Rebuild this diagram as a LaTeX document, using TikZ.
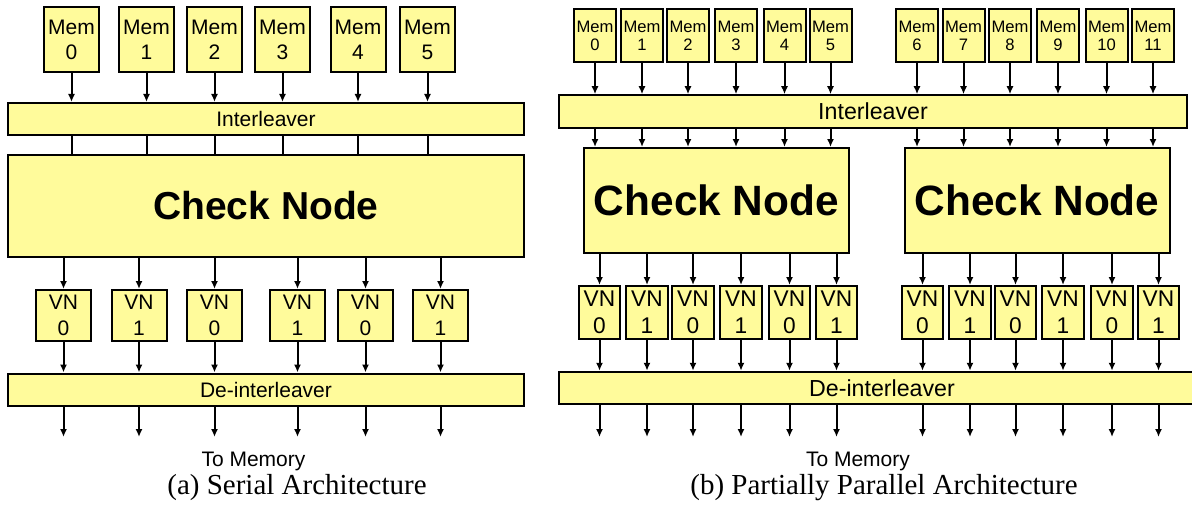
\documentclass[tikz,border=0pt]{standalone}
\usepackage{fontspec}
\setmainfont{Liberation Serif}
\setsansfont{Liberation Sans}
\usepackage{xcolor}
\usetikzlibrary{arrows.meta}
\definecolor{paleyellow}{RGB}{255, 251, 155}

\begin{document}
\begin{tikzpicture}[x=1pt, y=-1pt, line width=2pt, >={Latex[length=8pt, width=7pt]},
    block/.style={rectangle, draw, fill=paleyellow, inner sep=0pt, align=center},
    memA/.style={block, minimum width=55pt, minimum height=65pt, font=\sffamily\fontsize{21}{25}\selectfont},
    memB/.style={block, minimum width=42pt, minimum height=53pt, font=\sffamily\fontsize{16.6}{18}\selectfont},
    vnA/.style={block, minimum width=55pt, minimum height=51pt, font=\sffamily\fontsize{21}{26}\selectfont},
    vnB/.style={block, minimum width=41.5pt, minimum height=53pt, font=\sffamily\fontsize{22.7}{27}\selectfont},
    barA/.style={block, minimum width=515.5pt, minimum height=32pt, font=\sffamily\fontsize{21}{25}\selectfont},
    barB/.style={block, minimum height=32.5pt, font=\sffamily\fontsize{23.2}{27}\selectfont},
    checkA/.style={block, minimum width=515.5pt, minimum height=102pt, font=\sffamily\bfseries\fontsize{39}{45}\selectfont},
    checkB/.style={block, minimum width=265pt, minimum height=105pt, font=\sffamily\bfseries\fontsize{42.4}{48}\selectfont},
    note/.style={font=\sffamily\fontsize{21}{25}\selectfont},
    caption/.style={font=\rmfamily\fontsize{29}{33}\selectfont}]
    \useasboundingbox (0,0) rectangle (1192,511);

    % (a) Memories
    \node[memA] (memA0) at (71.5, 39.5) {Mem\\0};
    \node[memA] (memA1) at (146.5, 39.5) {Mem\\1};
    \node[memA] (memA2) at (214.5, 39.5) {Mem\\2};
    \node[memA] (memA3) at (282.5, 39.5) {Mem\\3};
    \node[memA] (memA4) at (358, 39.5) {Mem\\4};
    \node[memA] (memA5) at (427.5, 39.5) {Mem\\5};

    % (a) Interleaver and check node
    \node[barA] (ilA) at (266, 119) {Interleaver};
    \node[checkA] (cnA) at (266, 206) {Check Node};

    % (a) Variable nodes
    \node[vnA] (vnA0) at (63.5, 315.5) {VN\\0};
    \node[vnA] (vnA1) at (139, 315.5) {VN\\1};
    \node[vnA] (vnA2) at (214.5, 315.5) {VN\\0};
    \node[vnA] (vnA3) at (297.5, 315.5) {VN\\1};
    \node[vnA] (vnA4) at (365.5, 315.5) {VN\\0};
    \node[vnA] (vnA5) at (440.5, 315.5) {VN\\1};

    % (a) De-interleaver and output
    \node[barA] (dilA) at (266, 389.5) {De-interleaver};
    \coordinate (endA) at (0, 437);
    \node[note] (toA) at (253.5, 461) {To Memory};
    \node[caption] (capA) at (297, 488) {(a) Serial Architecture};

    % (a) Connections
    \foreach \i in {0,...,5} {
        \draw[->] (memA\i) -- (memA\i |- ilA.north);
        \draw (memA\i |- ilA.south) -- (memA\i |- cnA.north);
        \draw[->] (vnA\i |- cnA.south) -- (vnA\i);
        \draw[->] (vnA\i) -- (vnA\i |- dilA.north);
        \draw[->] (vnA\i |- dilA.south) -- (vnA\i |- endA);
    }

    % (b) Memories
    \node[memB] (memB0) at (595, 35.5) {Mem\\0};
    \node[memB] (memB1) at (642, 35.5) {Mem\\1};
    \node[memB] (memB2) at (688, 35.5) {Mem\\2};
    \node[memB] (memB3) at (736, 35.5) {Mem\\3};
    \node[memB] (memB4) at (784.5, 35.5) {Mem\\4};
    \node[memB] (memB5) at (830.5, 35.5) {Mem\\5};
    \node[memB] (memB6) at (917, 35.5) {Mem\\6};
    \node[memB] (memB7) at (963.5, 35.5) {Mem\\7};
    \node[memB] (memB8) at (1010, 35.5) {Mem\\8};
    \node[memB] (memB9) at (1058, 35.5) {Mem\\9};
    \node[memB] (memB10) at (1106.5, 35.5) {Mem\\10};
    \node[memB] (memB11) at (1153, 35.5) {Mem\\11};

    % (b) Interleaver and check nodes
    \node[barB, minimum width=628pt] (ilB) at (873, 111.5) {Interleaver};
    \node[checkB] (cnB1) at (716.5, 200.5) {Check Node};
    \node[checkB] (cnB2) at (1037, 200.5) {Check Node};

    % (b) Variable nodes
    \node[vnB] (vnB0) at (599.5, 312.5) {VN\\0};
    \node[vnB] (vnB1) at (647, 312.5) {VN\\1};
    \node[vnB] (vnB2) at (693, 312.5) {VN\\0};
    \node[vnB] (vnB3) at (741, 312.5) {VN\\1};
    \node[vnB] (vnB4) at (789.5, 312.5) {VN\\0};
    \node[vnB] (vnB5) at (836.5, 312.5) {VN\\1};
    \node[vnB] (vnB6) at (922.5, 312.5) {VN\\0};
    \node[vnB] (vnB7) at (970, 312.5) {VN\\1};
    \node[vnB] (vnB8) at (1015.5, 312.5) {VN\\0};
    \node[vnB] (vnB9) at (1063, 312.5) {VN\\1};
    \node[vnB] (vnB10) at (1112, 312.5) {VN\\0};
    \node[vnB] (vnB11) at (1158.5, 312.5) {VN\\1};

    % (b) De-interleaver and output
    \node[barB, minimum width=646pt] (dilB) at (882, 388) {De-interleaver};
    \coordinate (endB) at (0, 437);
    \node[note] (toB) at (858, 461) {To Memory};
    \node[caption] (capB) at (884, 488) {(b) Partially Parallel Architecture};

    % (b) Connections
    \foreach \i in {0,...,11} {
        \draw[->] (memB\i) -- (memB\i |- ilB.north);
        \draw[->] (vnB\i) -- (vnB\i |- dilB.north);
        \draw[->] (vnB\i |- dilB.south) -- (vnB\i |- endB);
    }
    \foreach \i in {0,...,5} {
        \draw[->] (memB\i |- ilB.south) -- (memB\i |- cnB1.north);
        \draw[->] (vnB\i |- cnB1.south) -- (vnB\i);
    }
    \foreach \i in {6,...,11} {
        \draw[->] (memB\i |- ilB.south) -- (memB\i |- cnB2.north);
        \draw[->] (vnB\i |- cnB2.south) -- (vnB\i);
    }
\end{tikzpicture}
\end{document}
